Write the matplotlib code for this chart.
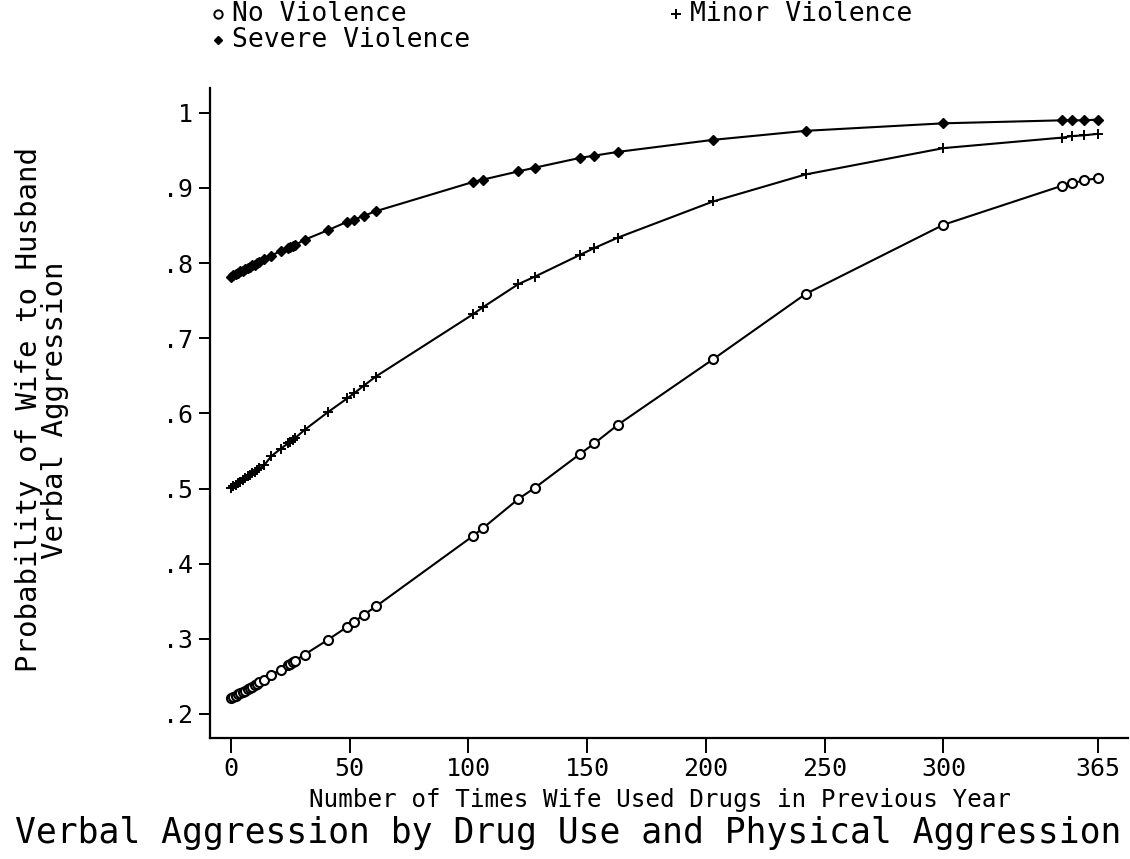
import matplotlib
matplotlib.use("Agg")
import matplotlib.pyplot as plt

# ==========================================
# 1. DATA
# ==========================================
# observed drug-use frequencies (shared by all three groups)
DRUG_USE = [0, 1, 2, 3, 4, 5, 6, 7, 8, 9, 10, 11, 12, 14, 17, 21, 24, 25, 26, 27,
            31, 41, 49, 52, 56, 61, 102, 106, 121, 128, 147, 153, 163, 203, 242,
            300, 350, 354, 359, 365]

NO_VIOLENCE = [0.221, 0.223, 0.224, 0.226, 0.228, 0.229, 0.231, 0.233, 0.234, 0.236,
               0.238, 0.240, 0.242, 0.245, 0.252, 0.259, 0.265, 0.267, 0.269, 0.271,
               0.279, 0.299, 0.316, 0.323, 0.332, 0.343, 0.437, 0.447, 0.486, 0.501,
               0.546, 0.560, 0.585, 0.672, 0.759, 0.851, 0.903, 0.906, 0.910, 0.913]

MINOR_VIOLENCE = [0.501, 0.503, 0.505, 0.507, 0.509, 0.512, 0.514, 0.516, 0.518, 0.520,
                  0.522, 0.524, 0.527, 0.531, 0.543, 0.553, 0.560, 0.562, 0.565, 0.567,
                  0.578, 0.602, 0.620, 0.627, 0.637, 0.649, 0.732, 0.741, 0.772, 0.782,
                  0.811, 0.820, 0.834, 0.882, 0.918, 0.953, 0.967, 0.969, 0.970, 0.972]

SEVERE_VIOLENCE = [0.782, 0.784, 0.785, 0.787, 0.789, 0.790, 0.792, 0.793, 0.795, 0.797,
                   0.798, 0.800, 0.801, 0.805, 0.810, 0.816, 0.820, 0.821, 0.823, 0.824,
                   0.831, 0.844, 0.855, 0.858, 0.863, 0.869, 0.908, 0.911, 0.922, 0.927,
                   0.940, 0.943, 0.948, 0.964, 0.976, 0.986, 0.990, 0.990, 0.990, 0.991]

X_TICKS = [0, 50, 100, 150, 200, 250, 300, 365]
Y_TICKS = [0.2, 0.3, 0.4, 0.5, 0.6, 0.7, 0.8, 0.9, 1.0]
Y_TICK_LABELS = [".2", ".3", ".4", ".5", ".6", ".7", ".8", ".9", "1"]

FONT = "DejaVu Sans Mono"

# ==========================================
# 2. PLOT
# ==========================================
fig = plt.figure(figsize=(11.3, 8.59), dpi=100)
ax = fig.add_axes([210 / 1130, 1 - 738 / 859, 918 / 1130, 650 / 859])

ax.plot(DRUG_USE, NO_VIOLENCE, color="black", lw=1.5, marker="o", ms=6.5,
        mfc="white", mec="black", mew=1.5)
ax.plot(DRUG_USE, MINOR_VIOLENCE, color="black", lw=1.5, marker="+", ms=7, mew=1.4)
ax.plot(DRUG_USE, SEVERE_VIOLENCE, color="black", lw=1.5, marker="D", ms=5,
        mfc="black", mec="black")

ax.set_xlim(-8.8, 377.7)
ax.set_ylim(0.168, 1.033)
ax.set_xticks(X_TICKS)
ax.set_xticklabels([str(t) for t in X_TICKS], family=FONT, fontsize=18)
ax.set_yticks(Y_TICKS)
ax.set_yticklabels(Y_TICK_LABELS, family=FONT, fontsize=18)
ax.tick_params(axis="x", length=11, width=1.4, pad=3)
ax.tick_params(axis="y", length=8, width=1.4, pad=4)

for side in ["top", "right"]:
    ax.spines[side].set_visible(False)
for side in ["left", "bottom"]:
    ax.spines[side].set_linewidth(1.6)

# axis titles
fig.text(660 / 1130, 1 - 800 / 859, "Number of Times Wife Used Drugs in Previous Year",
         family=FONT, fontsize=17.5, ha="center", va="center")
fig.text(42 / 1130, 1 - 410 / 859, "Probability of Wife to Husband\nVerbal Aggression",
         family=FONT, fontsize=21, ha="center", va="center", rotation=90,
         linespacing=0.95)
fig.text(568 / 1130, 1 - 833 / 859, "Verbal Aggression by Drug Use and Physical Aggression",
         family=FONT, fontsize=25, ha="center", va="center")

# legend drawn in figure coordinates, like the original key above the plot
leg_items = [("No Violence", "o", 218, 14), ("Minor Violence", "+", 676, 14),
             ("Severe Violence", "D", 218, 40)]
for label, mk, px, py in leg_items:
    fx, fy = px / 1130, 1 - py / 859
    if mk == "o":
        fig.lines.append(plt.Line2D([fx], [fy], marker="o", ms=6, mfc="white",
                                    mec="black", mew=1.4, transform=fig.transFigure))
    elif mk == "+":
        fig.lines.append(plt.Line2D([fx], [fy], marker="+", ms=7, mew=1.4,
                                    color="black", transform=fig.transFigure))
    else:
        fig.lines.append(plt.Line2D([fx], [fy], marker="D", ms=4.5, color="black",
                                    transform=fig.transFigure))
    fig.text(fx + 14 / 1130, fy, label, family=FONT, fontsize=19, ha="left", va="center")

fig.savefig("out.png", dpi=100)
